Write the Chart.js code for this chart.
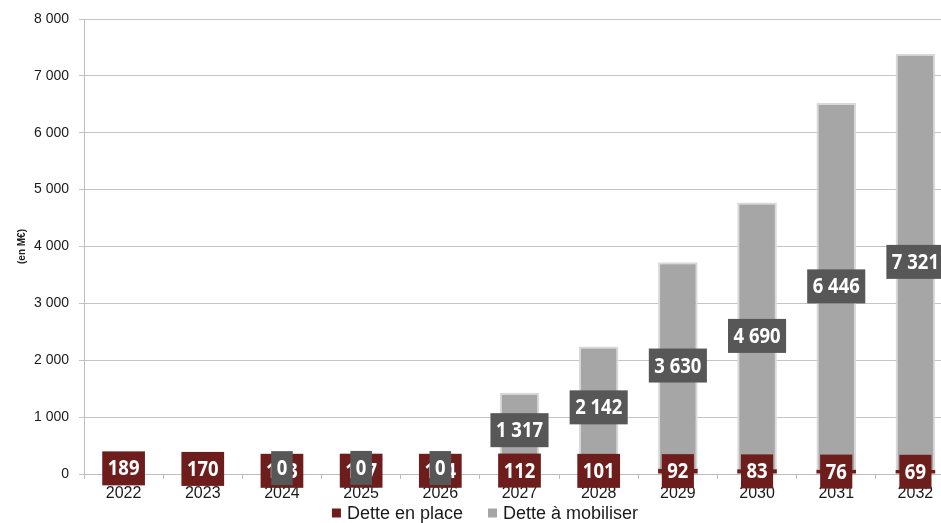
<!DOCTYPE html>
<html lang="fr">
<head>
<meta charset="utf-8">
<script src="https://cdn.jsdelivr.net/npm/chart.js@4.4.0/dist/chart.umd.min.js"></script>
<style>
  html, body { margin: 0; padding: 0; background: #fff; overflow: hidden; }
  #wrap { position: relative; width: 955px; height: 523px; }
</style>
</head>
<body>
<div id="wrap"><canvas id="detteChart"></canvas></div>
<script>
// données (en M€)
const annees = ['2022', '2023', '2024', '2025', '2026', '2027', '2028', '2029', '2030', '2031', '2032'];
const detteEnPlace = [189, 170, 103, 107, 104, 112, 101, 92, 83, 76, 69];
const detteAMobiliser = [null, null, 0, 0, 0, 1317, 2142, 3630, 4690, 6446, 7321];
const graduationsY = [0, 1000, 2000, 3000, 4000, 5000, 6000, 7000, 8000];

const rouge = '#6e1d1d';
const grisBarre = '#a6a6a6';
const grisEtiquette = '#575757';

function formatFr(v) {
    return String(v).replace(/\B(?=(\d{3})+(?!\d))/g, ' ');
}

// étiquettes de valeur au centre de chaque segment (police un peu resserrée)
const etiquettes = {
    id: 'etiquettes',
    afterDatasetsDraw(chart) {
        const ctx = chart.ctx;
        const serre = 0.88;
        ctx.save();
        ctx.font = 'bold 21px "Noto Sans"';
        ctx.textAlign = 'center';
        ctx.textBaseline = 'middle';
        chart.data.datasets.forEach((ds, i) => {
            const meta = chart.getDatasetMeta(i);
            meta.data.forEach((bar, j) => {
                const v = ds.data[j];
                if (v === null || v === undefined) return;
                const txt = formatFr(v);
                const p = bar.getCenterPoint();
                const w = ctx.measureText(txt).width * serre + 11;
                const h = 34;
                ctx.fillStyle = ds.fondEtiquette;
                ctx.fillRect(p.x - w / 2, p.y - h / 2, w, h);
                ctx.save();
                ctx.translate(p.x, p.y + 1);
                ctx.scale(serre, 1);
                ctx.fillStyle = '#fff';
                ctx.fillText(txt, 0, 0);
                ctx.restore();
            });
        });
        ctx.restore();
    }
};

// légende en bas, dessinée à la main pour garder l'écart entre les entrées
const legendeBas = {
    id: 'legendeBas',
    afterDraw(chart) {
        const ctx = chart.ctx;
        ctx.save();
        ctx.font = '18px Arial';
        ctx.textBaseline = 'middle';
        const items = chart.data.datasets.map(ds => ({ txt: ds.label, couleur: ds.backgroundColor }));
        const box = 9, gapTexte = 6, gapItem = 25;
        const largeurs = items.map(it => box + gapTexte + ctx.measureText(it.txt).width);
        const total = largeurs.reduce((a, b) => a + b, 0) + gapItem * (items.length - 1);
        let x = 485 - total / 2;
        const y = 514;
        items.forEach((it, i) => {
            ctx.fillStyle = it.couleur;
            ctx.fillRect(x, y - box / 2 - 1, box, box);
            ctx.fillStyle = '#1a1a1a';
            ctx.fillText(it.txt, x + box + gapTexte, y);
            x += largeurs[i] + gapItem;
        });
        ctx.restore();
    }
};

new Chart(document.getElementById('detteChart'), {
    type: 'bar',
    data: {
        labels: annees,
        datasets: [{
            label: 'Dette en place',
            data: detteEnPlace,
            backgroundColor: rouge,
            fondEtiquette: rouge,
            borderWidth: 0,
            categoryPercentage: 1,
            barPercentage: 0.5
        }, {
            label: 'Dette à mobiliser',
            data: detteAMobiliser,
            backgroundColor: grisBarre,
            borderColor: '#d9d9d9',
            borderWidth: 2,
            borderSkipped: 'bottom',
            fondEtiquette: grisEtiquette,
            categoryPercentage: 1,
            barPercentage: 0.5
        }]
    },
    plugins: [etiquettes, legendeBas],
    options: {
        responsive: true,
        maintainAspectRatio: false,
        animation: false,
        layout: { padding: { top: 19, right: 0, bottom: 21, left: 0 } },
        plugins: {
            tooltip: { enabled: false },
            legend: { display: false }
        },
        scales: {
            x: {
                stacked: true,
                afterFit(scale) { scale.height = 28; },
                grid: { drawOnChartArea: false, drawTicks: true, tickLength: 5, color: '#bdbdbd' },
                border: { display: true, color: '#bdbdbd' },
                ticks: { color: '#1a1a1a', padding: 5, font: { family: 'Arial', size: 16 } }
            },
            y: {
                stacked: true,
                min: 0,
                max: 8000,
                afterFit(scale) { scale.width = 84; },
                afterBuildTicks(scale) { scale.ticks = graduationsY.map(v => ({ value: v })); },
                grid: { color: '#c4c4c4', tickLength: 5 },
                border: { display: true, color: '#bdbdbd' },
                ticks: {
                    color: '#1a1a1a',
                    padding: 10,
                    font: { family: 'Arial', size: 14 },
                    callback: v => formatFr(v)
                },
                title: {
                    display: true,
                    text: '(en M€)',
                    color: '#222',
                    padding: { top: 16, bottom: 0 },
                    font: { family: 'Arial', size: 10, weight: 'bold' }
                }
            }
        }
    }
});
</script>
</body>
</html>
